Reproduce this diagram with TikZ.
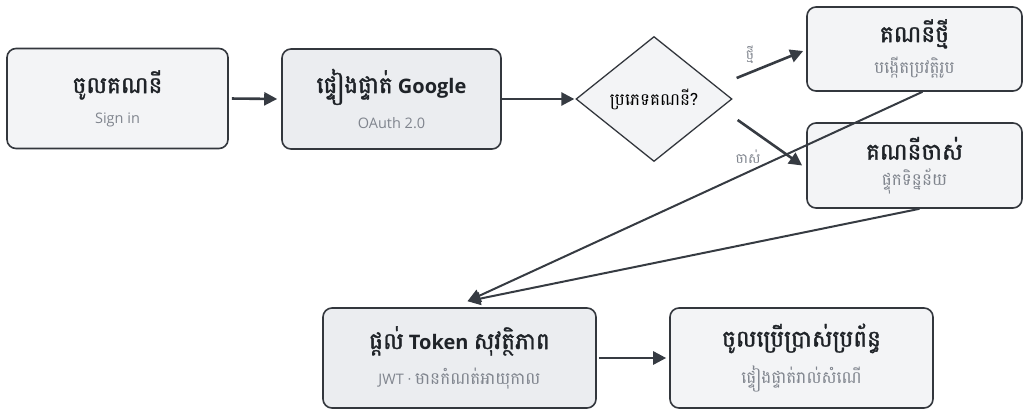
\documentclass[tikz,border=0pt]{standalone}
\usepackage{fontspec}
\setmainfont{Open Sans}
\newfontfamily\kh[Script=Khmer,Scale=1.16,BoldFont=Battambang,BoldFeatures={FakeBold=1.6}]{Battambang}
\usetikzlibrary{shapes.geometric,arrows.meta,calc}
\definecolor{edge}{HTML}{33373D}
\definecolor{boxfill}{HTML}{F3F4F6}
\definecolor{boxfilldk}{HTML}{EBEDF0}
\definecolor{subgray}{HTML}{80858E}
\definecolor{ttlc}{HTML}{1F2328}
\definecolor{arr}{HTML}{363B42}
\tikzset{
  card/.style={draw=edge, line width=1.6pt, rounded corners=9pt, fill=boxfill, align=center, inner sep=0pt},
  carddk/.style={card, fill=boxfilldk},
  flow/.style={draw=arr, line width=2.6pt, -{Triangle[length=13pt,width=13pt]}},
  flowthin/.style={draw=arr, line width=2pt, -{Triangle[length=13pt,width=13pt]}},
  lbl/.style={font=\kh\fontsize{12}{14}\selectfont, text=subgray, inner sep=0pt},
}
\newcommand{\ttl}[1]{{\fontsize{20}{23}\selectfont\bfseries\color{ttlc}#1}}
\newcommand{\sub}[1]{{\fontsize{14.5}{18}\selectfont\color{subgray}#1}}
\begin{document}
\begin{tikzpicture}[x=1pt,y=-1pt]
\useasboundingbox (0,0) rectangle (1029,410);
\node[card, minimum width=221pt, minimum height=100pt] (a) at (117.5,98.5)
  {\ttl{\kh ចូលគណនី}\\[12pt]\sub{Sign in}};
\node[carddk, minimum width=219pt, minimum height=100pt] (b) at (391.5,99)
  {\ttl{{\kh ផ្ទៀងផ្ទាត់} Google}\\[12pt]\sub{OAuth 2.0}};
\node[diamond, draw=edge, line width=1.3pt, fill=boxfill, minimum width=156pt, minimum height=125pt, inner sep=0pt] (d) at (654,99)
  {\kh\fontsize{14.5}{18}\selectfont ប្រភេទគណនី?};
\node[card, minimum width=215pt, minimum height=84pt] (n) at (914.5,49)
  {\ttl{\kh គណនីថ្មី}\\[8pt]\sub{\kh បង្កើតប្រវត្តិរូប}};
\node[card, minimum width=215pt, minimum height=85pt] (o) at (914.5,165.5)
  {\ttl{\kh គណនីចាស់}\\[8pt]\sub{\kh ផ្ទុកទិន្នន័យ}};
\node[carddk, minimum width=273pt, minimum height=100pt] (t) at (459.5,358)
  {\ttl{{\kh ផ្តល់} Token {\kh សុវត្ថិភាព}}\\[12pt]\sub{JWT · {\kh មានកំណត់អាយុកាល}}};
\node[card, minimum width=263pt, minimum height=100pt] (f) at (801.5,358)
  {\ttl{\kh ចូលប្រើប្រាស់ប្រព័ន្ធ}\\[12pt]\sub{\kh ផ្ទៀងផ្ទាត់រាល់សំណើ}};
\coordinate (tn) at ($(t.north)+(8,-6)$);
\node[lbl] (ln) at (750,55) {ថ្មី};
\node[lbl] (lo) at (748,157) {ចាស់};
\draw[flow, shorten <=3pt, shorten >=4pt] (a.east) -- (b.west);
\draw[flow, shorten >=1pt] (b.east) -- (d.west);
\draw[flow] ($(d.east)+(4,-21)$) -- ($(n.west)+(-3,2)$);
\draw[flow] ($(d.east)+(5,21)$) -- ($(o.west)+(-4,0)$);
\draw[flowthin] ($(o.south)+(5,0)$) -- (tn);
\draw[flowthin] ($(n.south)+(8,0)$) -- (tn);
\draw[flow, shorten <=2pt, shorten >=3pt] (t.east) -- (f.west);
\end{tikzpicture}
\end{document}
